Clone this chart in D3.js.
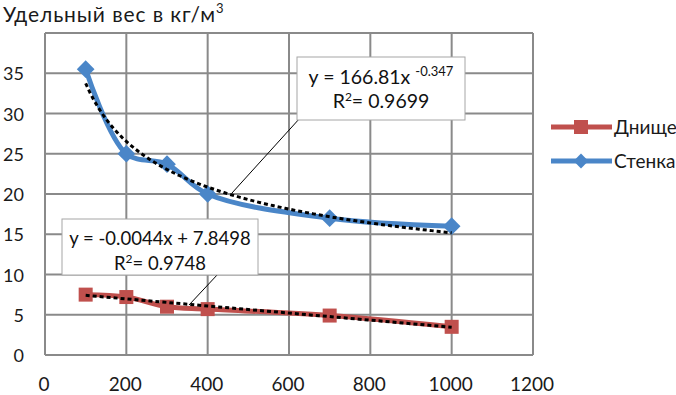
<!DOCTYPE html>
<html>
<head>
<meta charset="utf-8">
<script src="https://cdn.jsdelivr.net/npm/d3@7"></script>
<style>
  body { margin: 0; background: #fff; }
  svg { font-family: Lato, "Open Sans", sans-serif; }
</style>
</head>
<body>
<div id="chart"></div>
<script>
// values
const xValues = [100, 200, 300, 400, 700, 1000];
const bottomValues = [7.5, 7.2, 6.0, 5.7, 4.9, 3.5];   // Днище
const wallValues = [35.5, 25.0, 23.7, 20.0, 17.0, 16.0]; // Стенка
const seriesNames = ['Днище', 'Стенка'];
const xTicks = [0, 200, 400, 600, 800, 1000, 1200];
const yTicks = [0, 5, 10, 15, 20, 25, 30, 35, 40];
const yTickLabels = ['0', '5', '10', '15', '20', '25', '30', '35', ''];
// trendline coefficients as printed on the chart
const powerFit = [166.81, -0.347];
const linearFit = [-0.0044, 7.8498];

const width = 676;
const height = 395;
const margin = { top: 33, right: 143, bottom: 40, left: 45 };

const svg = d3.select('#chart')
  .append('svg')
  .attr('width', width)
  .attr('height', height);

const x = d3.scaleLinear()
  .domain([0, 1200])
  .range([margin.left, width - margin.right]);

const y = d3.scaleLinear()
  .domain([0, 40])
  .range([height - margin.bottom, margin.top]);

const grid = svg.append('g');

grid.selectAll('.vgrid')
  .data(xTicks)
  .enter()
  .append('line')
  .attr('x1', d => x(d))
  .attr('x2', d => x(d))
  .attr('y1', y(0))
  .attr('y2', y(40))
  .attr('stroke', '#8a8a8a')
  .attr('stroke-width', 2);

grid.selectAll('.hgrid')
  .data(yTicks)
  .enter()
  .append('line')
  .attr('x1', x(0))
  .attr('x2', x(1200))
  .attr('y1', d => y(d))
  .attr('y2', d => y(d))
  .attr('stroke', '#8a8a8a')
  .attr('stroke-width', 2);

svg.append('g')
  .selectAll('text')
  .data(xTicks)
  .enter()
  .append('text')
  .attr('x', d => x(d) - 1)
  .attr('y', 391)
  .attr('text-anchor', 'middle')
  .attr('font-size', 19)
  .attr('fill', '#1a1a1a')
  .text(d => d);

svg.append('g')
  .selectAll('text')
  .data(yTicks)
  .enter()
  .append('text')
  .attr('x', 24)
  .attr('y', d => y(d) + 7)
  .attr('text-anchor', 'end')
  .attr('font-size', 18)
  .attr('fill', '#1a1a1a')
  .text((d, i) => yTickLabels[i]);

// title
const title = svg.append('text')
  .attr('x', 3)
  .attr('y', 22)
  .attr('font-size', 21)
  .attr('letter-spacing', 0.9)
  .attr('fill', '#1a1a1a');
title.append('tspan').text('Удельный вес в кг/м');
title.append('tspan').attr('font-size', 13).attr('dy', -9).text('3');

const curve = d3.curveCatmullRom.alpha(0.5);

const line = d3.line()
  .x(d => x(d[0]))
  .y(d => y(d[1]))
  .curve(curve);

const bottomData = xValues.map((v, i) => [v, bottomValues[i]]);
const wallData = xValues.map((v, i) => [v, wallValues[i]]);

svg.append('path')
  .datum(bottomData)
  .attr('d', line)
  .attr('fill', 'none')
  .attr('stroke', '#c0504d')
  .attr('stroke-width', 5);

svg.append('path')
  .datum(wallData)
  .attr('d', line)
  .attr('fill', 'none')
  .attr('stroke', '#4a86c8')
  .attr('stroke-width', 5);

// markers
svg.selectAll('.sq')
  .data(bottomData)
  .enter()
  .append('rect')
  .attr('x', d => x(d[0]) - 7)
  .attr('y', d => y(d[1]) - 7)
  .attr('width', 14)
  .attr('height', 14)
  .attr('fill', '#c0504d');

svg.selectAll('.dm')
  .data(wallData)
  .enter()
  .append('path')
  .attr('d', d3.symbol(d3.symbolDiamond2, 200))
  .attr('transform', d => `translate(${x(d[0])}, ${y(d[1])})`)
  .attr('fill', '#4a86c8');

// trendlines
const powerPts = d3.range(100, 1001, 10).map(v => [v, powerFit[0] * Math.pow(v, powerFit[1])]);
const linearPts = [100, 1000].map(v => [v, linearFit[0] * v + linearFit[1]]);

const straight = d3.line()
  .x(d => x(d[0]))
  .y(d => y(d[1]));

svg.append('path')
  .datum(powerPts)
  .attr('d', straight)
  .attr('fill', 'none')
  .attr('stroke', '#000')
  .attr('stroke-width', 3)
  .attr('stroke-dasharray', '4,3');

svg.append('path')
  .datum(linearPts)
  .attr('d', straight)
  .attr('fill', 'none')
  .attr('stroke', '#000')
  .attr('stroke-width', 3)
  .attr('stroke-dasharray', '4,3');

// equation labels
function label(bx, by, bw, bh, size, line1, sup1, line2, leader, dy1, dy2) {
  svg.append('line')
    .attr('x1', leader[0]).attr('y1', leader[1])
    .attr('x2', leader[2]).attr('y2', leader[3])
    .attr('stroke', '#000')
    .attr('stroke-width', 1);
  svg.append('rect')
    .attr('x', bx).attr('y', by)
    .attr('width', bw).attr('height', bh)
    .attr('fill', '#fff')
    .attr('stroke', '#a6a6a6');
  const t1 = svg.append('text')
    .attr('x', bx + bw / 2)
    .attr('y', by + dy1)
    .attr('text-anchor', 'middle')
    .attr('font-size', size)
    .attr('fill', '#111');
  t1.append('tspan').text(line1);
  if (sup1) t1.append('tspan').attr('font-size', 13).attr('dy', -8).text(sup1);
  const t2 = svg.append('text')
    .attr('x', bx + bw / 2)
    .attr('y', by + dy2)
    .attr('text-anchor', 'middle')
    .attr('font-size', size)
    .attr('fill', '#111');
  t2.append('tspan').text('R');
  t2.append('tspan').attr('font-size', 12).attr('dy', -7).text('2');
  t2.append('tspan').attr('dy', 7).text('= 0.' + line2);
}

label(297, 57, 168, 63, 19.5, 'y = 166.81x ', '-0.347', '9699', [300, 118, 232, 193], 27, 51);
label(62, 219, 196, 56, 18.5, 'y = -0.0044x + 7.8498', null, '9748', [218, 274, 189, 305], 26, 51);

// legend
const legend = svg.append('g');
const legendY = [127, 161];
const legendColors = ['#c0504d', '#4a86c8'];

legend.selectAll('line')
  .data(seriesNames)
  .enter()
  .append('line')
  .attr('x1', 551)
  .attr('x2', 612)
  .attr('y1', (d, i) => legendY[i])
  .attr('y2', (d, i) => legendY[i])
  .attr('stroke', (d, i) => legendColors[i])
  .attr('stroke-width', 5);

legend.append('rect')
  .attr('x', 574).attr('y', legendY[0] - 7)
  .attr('width', 14).attr('height', 14)
  .attr('fill', legendColors[0]);

legend.append('path')
  .attr('d', d3.symbol(d3.symbolDiamond2, 140))
  .attr('transform', `translate(581, ${legendY[1]})`)
  .attr('fill', legendColors[1]);

legend.selectAll('text')
  .data(seriesNames)
  .enter()
  .append('text')
  .attr('x', 614)
  .attr('y', (d, i) => legendY[i] + 7)
  .attr('font-size', 19)
  .attr('fill', '#1a1a1a')
  .text(d => d);
</script>
</body>
</html>
